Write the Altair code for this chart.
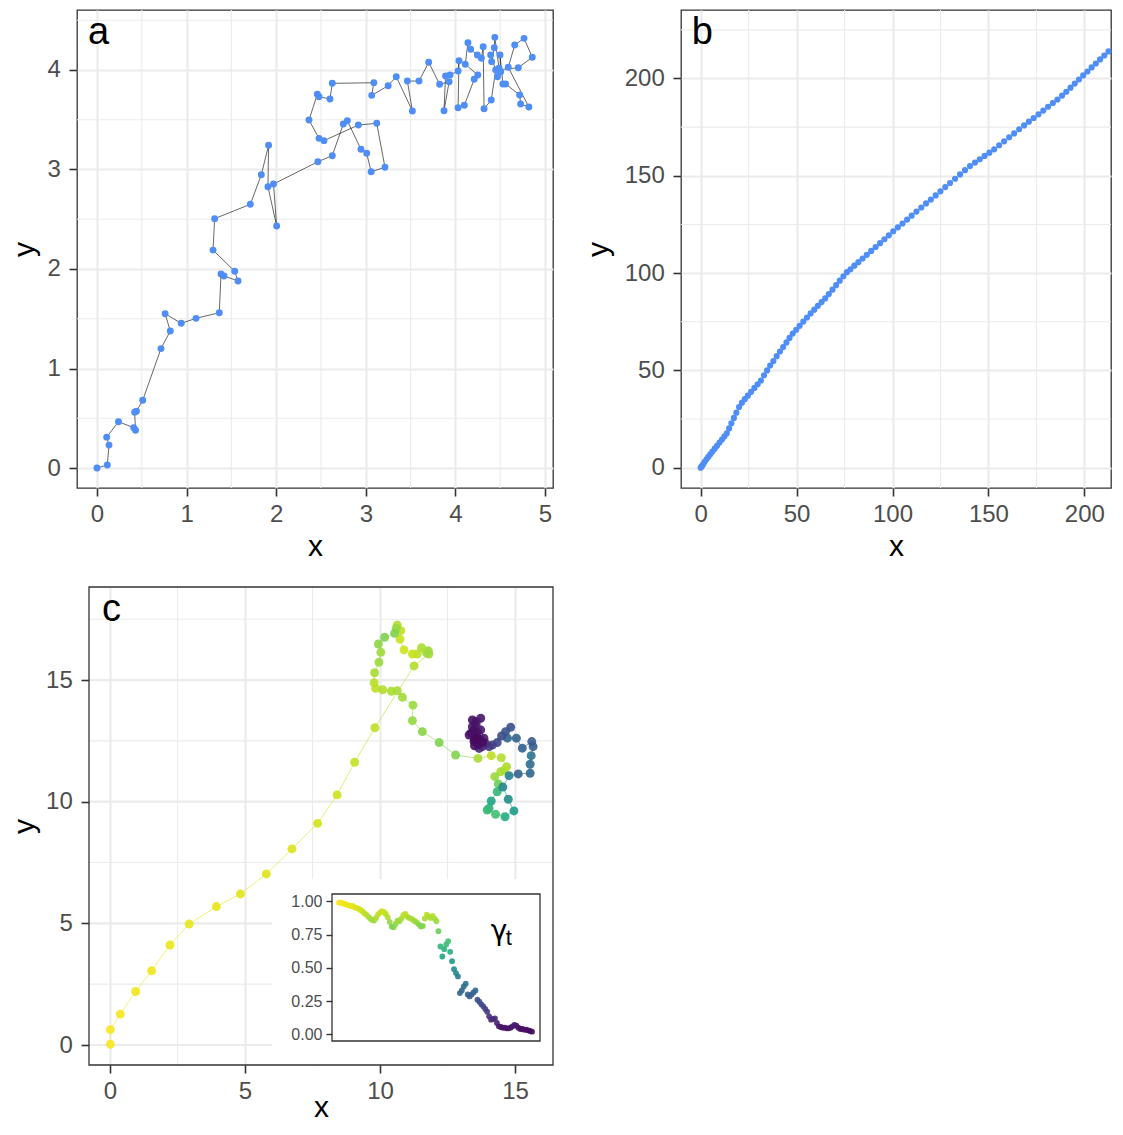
import altair as alt
import pandas as pd

FONT = "Liberation Sans"
BLUE = "#4F8EF6"
GRID = "#EBEBEB"
FRAME = "#333333"
LABEL = "#4D4D4D"

# ---------------- panel a : random walk ----------------
a_x = [0.0, 0.115, 0.134, 0.108, 0.24, 0.41, 0.43, 0.42, 0.44, 0.51,
       0.714, 0.818, 0.76, 0.94, 1.105, 1.365, 1.384, 1.417, 1.574, 1.537,
       1.295, 1.313, 1.711, 1.834, 1.915, 1.908, 2.005, 1.97, 2.465, 2.626,
       2.749, 2.794, 2.946, 3.01, 3.06, 3.214, 3.122, 2.917, 2.533, 2.478,
       2.366, 2.459, 2.478, 2.6, 2.626, 3.09, 3.066, 3.25, 3.34, 3.52,
       3.464, 3.594, 3.702, 3.824, 3.93, 3.873, 3.89, 3.94, 4.03, 4.04,
       4.03, 4.1, 4.21, 4.25, 4.11, 4.14, 4.17, 4.245, 4.29, 4.31,
       4.32, 4.4, 4.45, 4.394, 4.405, 4.434, 4.44, 4.487, 4.47, 4.505,
       4.498, 4.53, 4.56, 4.717, 4.728, 4.82, 4.59, 4.662, 4.766, 4.858,
       4.702, 4.47]
a_y = [0.0, 0.03, 0.23, 0.31, 0.465, 0.405, 0.38, 0.56, 0.57, 0.68,
       1.2, 1.377, 1.55, 1.454, 1.504, 1.561, 1.95, 1.93, 1.88, 1.977,
       2.19, 2.506, 2.65, 2.948, 3.243, 2.827, 2.432, 2.854, 3.078, 3.139,
       3.457, 3.49, 3.203, 3.163, 2.978, 3.022, 3.464, 3.447, 3.29, 3.313,
       3.497, 3.756, 3.732, 3.709, 3.866, 3.872, 3.745, 3.842, 3.933, 3.588,
       3.889, 3.889, 4.077, 3.856, 3.882, 3.591, 3.94, 3.95, 3.99, 4.093,
       3.62, 3.645, 3.907, 3.95, 4.057, 4.274, 4.208, 4.15, 4.118, 4.234,
       3.611, 3.698, 4.0, 4.15, 4.084, 4.224, 4.328, 4.017, 3.933, 3.983,
       4.15, 3.86, 3.86, 3.749, 3.658, 3.628, 4.027, 4.251, 4.318, 4.128,
       4.023, 4.0]

# ---------------- panel b : cumulative path ----------------
b_x = [0, 0.6, 1.3, 2.1, 3.0, 4.0, 5.0, 6.1, 7.3, 8.5, 9.8, 11.1, 12.4, 13.6,
       14.8, 16.0, 17.3, 18.6, 20.0,
       21.5, 23.0, 24.6, 26.3, 28.0, 29.7, 31.4,
       33.0, 34.6, 36.2,
       37.9, 39.6, 41.3, 43.0, 44.7, 46.3,
       48.0, 49.8, 51.6, 53.5, 55.4, 57.3,
       59.2, 61.1, 63.0, 64.9,
       66.8, 68.7, 70.6, 72.5, 74.4, 76.2,
       78.1, 80.1, 82.2, 84.4, 86.6, 88.9, 91.2, 93.5, 95.8, 98.1,
       100.4, 102.8, 105.2, 107.6, 110.0, 112.5, 115.0, 117.5, 120.0, 122.5,
       125.0, 127.5, 130.0, 132.6, 135.2, 137.8, 140.4,
       143.0, 145.5, 148.0, 150.5, 153.0, 155.6, 158.2, 160.8, 163.4, 166.0,
       168.6, 171.1, 173.6, 176.1, 178.6, 181.1, 183.6, 186.0, 188.4, 190.6,
       192.8, 195.0, 197.2, 199.4, 201.6, 203.8, 206.0, 208.2, 210.4, 212.6]
b_y = [0, 0.8, 1.8, 3.0, 4.3, 5.6, 6.9, 8.3, 9.8, 11.3, 12.9, 14.5, 16.1, 17.7,
       20.2, 22.8, 25.6, 28.3, 31.2,
       33.4, 35.2, 37.0, 39.0, 41.0, 42.9, 44.8,
       47.5, 50.0, 52.5,
       54.8, 57.3, 59.7, 62.0, 64.4, 66.7,
       68.9, 70.9, 72.9, 75.1, 77.2, 79.3,
       81.2, 83.2, 85.1, 87.0,
       89.2, 91.5, 93.8, 96.1, 98.4, 100.5,
       102.0, 103.8, 105.6, 107.5, 109.4, 111.4, 113.4, 115.4, 117.4, 119.4,
       121.5, 123.5, 125.5, 127.5, 129.5, 131.6, 133.7, 135.8, 137.8, 139.9,
       142.0, 144.2, 146.3, 148.5, 150.7, 152.9, 155.0,
       156.8, 158.5, 160.2, 161.9, 163.6, 165.7, 167.7, 169.8, 171.8, 173.9,
       175.9, 177.8, 179.7, 181.6, 183.5, 185.5, 187.4, 189.2, 191.2, 193.2,
       195.3, 197.4, 199.5, 201.6, 203.6, 205.7, 207.7, 209.8, 211.8, 213.9]

# ---------------- panel c : path coloured by gamma_t ----------------
c_x = [0.01, 0.01, 0.38, 0.95, 1.54, 2.22, 2.93, 3.94, 4.83, 5.79, 6.74, 7.69, 8.41, 9.06, 9.81,
       11.26, 11.81, 11.79, 11.72, 11.54, 11.38, 11.2, 10.89, 10.74, 10.77,
       10.64, 10.6, 10.54, 10.17, 9.94, 10.03, 9.96, 9.8, 9.78, 9.84,
       10.1, 10.42, 10.64, 10.83, 11.22, 11.2, 11.57, 12.19, 12.8, 13.63,
       14.12, 14.49, 14.69, 14.6, 14.47, 14.25,
       14.38, 14.34, 14.12, 14.04, 13.97, 14.28, 14.63, 14.96, 14.75, 14.55, 14.78,
       15.12, 15.56, 15.56, 15.6, 15.67, 15.62, 15.27, 15.05, 14.72, 14.65, 14.84, 14.5, 14.34,
       14.16, 14.04, 13.91, 13.79, 13.67, 13.6, 13.48, 13.54, 13.36, 13.3,
       13.42, 13.54, 13.42, 13.55, 13.73, 13.73, 13.85, 13.7, 13.6, 13.45,
       13.5, 13.65, 13.8, 13.62, 13.5]
c_y = [0.03, 0.63, 1.27, 2.2, 3.05, 4.11, 4.97, 5.69, 6.21, 7.03, 8.06, 9.11, 10.28, 11.62, 13.04,
       15.58, 16.07, 16.2, 16.12, 16.33, 16.07, 16.07, 16.24, 16.68, 17.03,
       17.26, 17.12, 16.92, 16.76, 16.48, 16.14, 15.73, 15.3, 14.89, 14.66,
       14.6, 14.54, 14.56, 14.29, 13.97, 13.33, 12.88, 12.43, 11.92, 11.78,
       11.89, 11.81, 11.44, 11.3, 11.23, 11.03,
       10.73, 10.41, 10.03, 9.73, 9.66, 9.48, 9.38, 9.62, 10.1, 10.6, 11.07,
       11.14, 11.17, 11.54, 11.89, 12.26, 12.47, 12.2, 12.61, 12.61, 12.88, 13.06, 12.7, 12.43,
       12.33, 12.26, 12.4, 12.26, 12.19, 12.4, 12.47, 12.67, 12.81, 12.74,
       13.08, 13.15, 13.36, 13.3, 13.43, 12.95, 12.61, 12.55, 12.85, 12.9,
       12.3, 12.35, 12.45, 12.6, 12.55]
c_gamma = [0.99, 0.99, 0.985, 0.98, 0.975, 0.97, 0.965, 0.965, 0.955, 0.95,
           0.945, 0.935, 0.925, 0.91, 0.90, 0.885, 0.87, 0.86, 0.855, 0.875,
           0.90, 0.915, 0.925, 0.92, 0.905, 0.88, 0.845, 0.81, 0.805, 0.83,
           0.855, 0.85, 0.87, 0.895, 0.905, 0.885, 0.875, 0.87, 0.86,
           0.85, 0.84, 0.825, 0.81, 0.815, 0.87, 0.90, 0.885, 0.875, 0.89,
           0.87, 0.85, 0.775, 0.66, 0.585, 0.64, 0.675, 0.70, 0.62, 0.55,
           0.49, 0.46, 0.435, 0.31, 0.33, 0.36, 0.38, 0.30, 0.285, 0.30,
           0.315, 0.33, 0.26, 0.245, 0.225, 0.21, 0.19, 0.17, 0.135, 0.11,
           0.115, 0.12, 0.085, 0.06, 0.055, 0.05, 0.05, 0.045, 0.045, 0.05,
           0.06, 0.07, 0.065, 0.05, 0.04, 0.04, 0.035, 0.035, 0.03, 0.025, 0.02]

# ---------------- axes / grid values ----------------
A_XT, A_YT = [0, 1, 2, 3, 4, 5], [0, 1, 2, 3, 4]
A_XM, A_YM = [0.5, 1.5, 2.5, 3.5, 4.5], [0.5, 1.5, 2.5, 3.5, 4.5]
B_XT, B_YT = [0, 50, 100, 150, 200], [0, 50, 100, 150, 200]
B_XM, B_YM = [25, 75, 125, 175], [25, 75, 125, 175, 225]
C_XT, C_YT = [0, 5, 10, 15], [0, 5, 10, 15]
C_XM, C_YM = [2.5, 7.5, 12.5], [2.5, 7.5, 12.5, 17.5]
G_T = [0, 0.25, 0.5, 0.75, 1.0]

# scale domains (ggplot 5% expansion)
A_XD, A_YD = [-0.2232, 5.0893], [-0.201, 4.603]
B_XD, B_YD = [-10.27, 213.9], [-10.43, 235.2]
C_XD, C_YD = [-0.778, 16.407], [-0.822, 18.824]   # panel c frame
C_SHIFT = 12                                        # px between panel a and panel c frames
C_XD_PLOT = [C_XD[0] - C_SHIFT / 27.0, C_XD[1]]     # plot area aligned with panel a
G_XD, G_YD = [-2.6, 104.1], [-0.0505, 1.055]

# panel tags (data coordinates, top-anchored)
TAG_A = ("a", -0.10, 4.560)
TAG_B = ("b", -4.69, 233.0)
TAG_C = ("c", -0.30, 18.647)

# inset viewport inside panel c (panel-c data units) and inset placement (px in panel c plot)
INSET_BG = {"x1": [6.0], "x2": [16.38], "y1": [-0.80], "y2": [6.82]}
INSET_XR = [255, 463]
INSET_YR = [454, 307]
GAMMA_LAB = ("γ", 78.8, 0.706)
T_LAB = ("t", 86.5, 0.668)


def sc(dom, rng=None):
    if rng is None:
        return alt.Scale(domain=dom, nice=False, zero=False)
    return alt.Scale(domain=dom, range=rng, nice=False, zero=False)


def ax(values, title, orient, tp, lp, **kw):
    return alt.Axis(values=values, title=title, orient=orient,
                    gridColor=GRID, gridWidth=2.2, domain=False,
                    tickColor=FRAME, tickWidth=1.6, tickSize=8,
                    labelColor=LABEL, labelFont=FONT, labelFontSize=24,
                    labelPadding=lp, labelFlush=False, labelOverlap=False,
                    titleFont=FONT, titleFontSize=30, titleFontWeight="normal",
                    titleColor="black", titlePadding=tp, **kw)


def tag_layer(X, Y, tag):
    return alt.Chart(pd.DataFrame({"x": [tag[1]], "y": [tag[2]], "s": [tag[0]]})).mark_text(
        font=FONT, fontSize=38, align="left", baseline="top", color="black"
    ).encode(x=X(), y=Y(), text="s:N")


def std_panel(xdom, ydom, xt, yt, xm, ym, ytp):
    X = lambda f="x": alt.X(f"{f}:Q", scale=sc(xdom), axis=ax(xt, "x", "bottom", 4.9, 6.5, grid=True))
    Y = lambda f="y": alt.Y(f"{f}:Q", scale=sc(ydom), axis=ax(yt, "y", "left", ytp, 8.7, grid=True))
    v = alt.Chart(pd.DataFrame({"x": xm})).mark_rule(color=GRID, strokeWidth=1.1).encode(x=X())
    h = alt.Chart(pd.DataFrame({"y": ym})).mark_rule(color=GRID, strokeWidth=1.1).encode(y=Y())
    return X, Y, v, h


# ---- panel a
XA, YA, va, ha = std_panel(A_XD, A_YD, A_XT, A_YT, A_XM, A_YM, 7.9)
df_a = pd.DataFrame({"x": a_x, "y": a_y, "i": list(range(len(a_x)))})
line_a = alt.Chart(df_a).mark_line(color="black", strokeWidth=0.6).encode(x=XA(), y=YA(), order="i:Q")
pts_a = alt.Chart(df_a).mark_circle(size=48, color=BLUE, opacity=1).encode(x=XA(), y=YA())
panel_a = alt.layer(va, ha, line_a, pts_a, tag_layer(XA, YA, TAG_A)).properties(width=476, height=478)

# ---- panel b
XB, YB, vb, hb = std_panel(B_XD, B_YD, B_XT, B_YT, B_XM, B_YM, 10.7)
df_b = pd.DataFrame({"x": b_x, "y": b_y})
pts_b = alt.Chart(df_b).mark_circle(size=38, color=BLUE, opacity=1).encode(x=XB(), y=YB())
panel_b = alt.layer(vb, hb, pts_b, tag_layer(XB, YB, TAG_B)).properties(width=430, height=478)

# ---- panel c (main) : plot area starts where panel a's does, frame drawn C_SHIFT px further right
XC = lambda f="x": alt.X(f"{f}:Q", scale=sc(C_XD_PLOT),
                         axis=ax(C_XT, "x", "bottom", -11, 6.5, grid=True, titleX=244))
YC = lambda f="y": alt.Y(f"{f}:Q", scale=sc(C_YD),
                         axis=ax(C_YT, "y", "left", 6.5, 8.7, grid=False, offset=-C_SHIFT))
df_c = pd.DataFrame({"x": c_x, "y": c_y, "g": c_gamma, "t": list(range(1, len(c_x) + 1))})
seg = pd.DataFrame({"x": c_x[:-1], "y": c_y[:-1], "x2": c_x[1:], "y2": c_y[1:], "g": c_gamma[:-1]})
COL = alt.Color("g:Q", scale=alt.Scale(scheme="viridis", domain=[0, 1]), legend=None)

vc = alt.Chart(pd.DataFrame({"x": C_XM})).mark_rule(color=GRID, strokeWidth=1.1).encode(x=XC())
hgrid = pd.DataFrame({"y": C_YT + C_YM, "w": [2.2] * len(C_YT) + [1.1] * len(C_YM),
                      "x": [C_XD[0]] * (len(C_YT) + len(C_YM)), "x2": [C_XD[1]] * (len(C_YT) + len(C_YM))})
hc = alt.Chart(hgrid).mark_rule(color=GRID).encode(
    x=XC(), x2="x2:Q", y=YC(), strokeWidth=alt.StrokeWidth("w:Q", scale=None))
bg = alt.Chart(pd.DataFrame(INSET_BG)).mark_rect(color="white").encode(
    x=XC("x1"), x2="x2:Q", y=YC("y1"), y2="y2:Q")
segs_c = alt.Chart(seg).mark_rule(strokeWidth=0.6).encode(x=XC(), y=YC(), x2="x2:Q", y2="y2:Q", color=COL)
pts_c = alt.Chart(df_c).mark_circle(size=80, opacity=0.9).encode(x=XC(), y=YC(), color=COL)
frame_c = alt.Chart(pd.DataFrame({"x": [C_XD[0]], "x2": [C_XD[1]], "y": [C_YD[0]], "y2": [C_YD[1]]})).mark_rect(
    fillOpacity=0, stroke=FRAME, strokeWidth=1.3).encode(x=XC(), x2="x2:Q", y=YC(), y2="y2:Q")
main_c = alt.layer(vc, hc, bg, segs_c, pts_c, tag_layer(XC, YC, TAG_C), frame_c)

# ---- panel c (inset gamma_t)
GX = lambda f="t": alt.X(f"{f}:Q", scale=sc(G_XD, INSET_XR), axis=None)
GY = lambda f="g": alt.Y(f"{f}:Q", scale=sc(G_YD, INSET_YR), axis=alt.Axis(
    orient="left", offset=-INSET_XR[0], values=G_T, format=".2f", grid=False, domain=False,
    tickColor=FRAME, tickWidth=1.4, tickSize=6, labelColor=LABEL, labelFont=FONT,
    labelFontSize=16, labelPadding=4, labelFlush=False, labelOverlap=False, title="", zindex=2))
frame_g = alt.Chart(pd.DataFrame({"t": [G_XD[0]], "t2": [G_XD[1]], "g": [G_YD[0]], "g2": [G_YD[1]]})).mark_rect(
    fillOpacity=0, stroke=FRAME, strokeWidth=1.3).encode(x=GX(), x2="t2:Q", y=GY(), y2="g2:Q")
pts_g = alt.Chart(df_c).mark_circle(size=34, opacity=0.9).encode(x=GX(), y=GY(), color=COL)
lab_g = alt.Chart(pd.DataFrame({"t": [GAMMA_LAB[1]], "g": [GAMMA_LAB[2]], "s": [GAMMA_LAB[0]]})).mark_text(
    font="DejaVu Sans", fontSize=28, align="left", baseline="alphabetic", color="black"
).encode(x=GX(), y=GY(), text="s:N")
lab_t = alt.Chart(pd.DataFrame({"t": [T_LAB[1]], "g": [T_LAB[2]], "s": [T_LAB[0]]})).mark_text(
    font=FONT, fontSize=22, align="left", baseline="alphabetic", color="black"
).encode(x=GX(), y=GY(), text="s:N")
inset = alt.layer(frame_g, pts_g, lab_g, lab_t)

panel_c = alt.layer(main_c, inset).resolve_scale(x="independent", y="independent").properties(
    width=476, height=478, view=alt.ViewBackground(stroke="transparent"))

chart = alt.concat(panel_a, panel_b, panel_c, columns=2,
                   spacing={"row": 22, "column": 27}).properties(
    padding={"left": 0, "top": 0, "right": 1, "bottom": 0}, background="white"
).configure_view(stroke=FRAME, strokeWidth=1.3)

chart.save("out.html", embed_options={"renderer": "svg", "actions": False})
